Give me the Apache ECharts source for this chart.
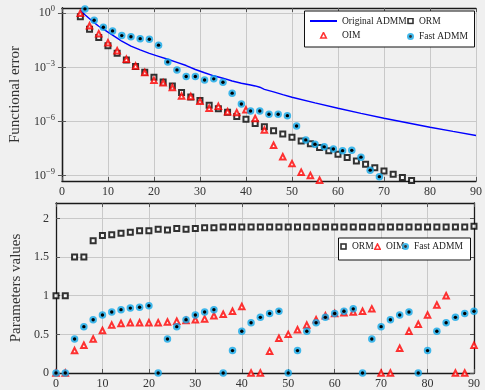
<!DOCTYPE html>
<html><head><meta charset="utf-8">
<script src="https://cdn.jsdelivr.net/npm/echarts@6/dist/echarts.min.js"></script>
<style>html,body{margin:0;padding:0;background:#f0f0f0}#c{width:485px;height:390px}</style>
</head><body><div id="c"></div>
<script>
// ---------- top chart: functional error (log scale) ----------
const admmX = [4,5,6,7,8,9,10,12,13,15,17,19,21,23,25,27,29,31,33,35,37,39,41,42,43,44,46,48,50,55,60,65,70,75,80,85,90];
const admmY = [1.48,0.83,0.50,0.30,0.19,0.132,0.089,0.042,0.028,0.015,9.3e-3,6.0e-3,4.1e-3,2.8e-3,1.9e-3,1.26e-3,7.6e-4,5.0e-4,3.4e-4,2.5e-4,1.74e-4,1.32e-4,1.05e-4,9.3e-5,7.9e-5,6.0e-5,4.4e-5,3.1e-5,2.2e-5,1.07e-5,5.4e-6,2.8e-6,1.5e-6,8.5e-7,4.8e-7,2.8e-7,1.66e-7];

const ormTopX = [4,6,8,10,12,14,16,18,20,22,24,26,28,30,32,34,36,38,40,42,44,46,48,50,52,54,56,58,60,62,64,66,68,70,72,74,76];
const ormTopY = [0.646,0.129,0.0447,0.0158,6.03e-3,2.57e-3,1.1e-3,5.37e-4,2.82e-4,1.55e-4,9.33e-5,3.98e-5,2.29e-5,1.45e-5,7.94e-6,5.13e-6,3.24e-6,1.91e-6,1.32e-6,7.59e-7,5.01e-7,3.09e-7,2.04e-7,1.35e-7,8.32e-8,5.75e-8,3.55e-8,2.34e-8,1.51e-8,1.0e-8,6.46e-9,4.27e-9,2.75e-9,1.82e-9,1.2e-9,7.76e-10,5.37e-10];

const oimTopX = [4,6,8,10,12,14,16,18,20,22,24,26,28,30,32,34,36,38,40,42,44,46,48,50,52,54,56];
const oimTopY = [1.0,0.20,0.074,0.023,8.3e-3,2.8e-3,1.2e-3,5.2e-4,1.9e-4,1.4e-4,7.6e-5,2.6e-5,2.4e-5,1.3e-5,5.4e-6,6.9e-6,3.5e-6,3.1e-6,4.4e-6,1.45e-6,3.4e-7,4.8e-8,1.1e-8,4.6e-9,1.55e-9,1.0e-9,5.5e-10];

const fastTopX = [5,7,9,11,13,15,17,19,21,23,25,27,29,31,33,35,37,39,41,43,45,47,49,51,53,55,57,59,61,63,65,67,69];
const fastTopY = [1.74,0.41,0.166,0.105,0.0575,0.050,0.039,0.036,0.017,2.0e-3,7.2e-4,3.1e-4,3.1e-4,2.0e-4,2.3e-4,1.5e-4,3.7e-5,9.3e-6,3.8e-6,3.8e-6,2.5e-6,2.5e-6,2.1e-6,5.6e-7,9.5e-8,5.5e-8,3.9e-8,3.0e-8,2.4e-8,2.5e-8,1.05e-8,2.0e-9,8.7e-10];

const topYTicks = [1e-9,1e-6,1e-3,1];

// ---------- bottom chart: parameter values ----------
const botX = [0,2,4,6,8,10,12,14,16,18,20,22,24,26,28,30,32,34,36,38,40,42,44,46,48,50,52,54,56,58,60,62,64,66,68,70,72,74,76,78,80,82,84,86,88,90];
const ormBot = [1.00,1.00,1.50,1.50,1.71,1.78,1.79,1.81,1.82,1.84,1.84,1.86,1.85,1.87,1.86,1.87,1.88,1.88,1.89,1.89,1.89,1.89,1.89,1.89,1.89,1.89,1.89,1.89,1.89,1.89,1.89,1.89,1.89,1.89,1.89,1.89,1.89,1.89,1.89,1.89,1.89,1.89,1.89,1.89,1.89,1.90];
const oimBot = [0,0,0.29,0.36,0.44,0.55,0.62,0.64,0.65,0.65,0.65,0.65,0.66,0.67,0.68,0.69,0.70,0.74,0.76,0.80,0.86,0,0,0.28,0.45,0.50,0.56,0.62,0.69,0.74,0.77,0.78,0.79,0.80,0.83,0,0,0.32,0.54,0.63,0.75,0.88,1.00,0,0,0.36];
const fastBot = [0,0,0.44,0.60,0.69,0.75,0.79,0.82,0.84,0.85,0.87,0,0.44,0.60,0.69,0.75,0.79,0.82,0,0.29,0.54,0.65,0.72,0.77,0.80,0,0.29,0.54,0.65,0.72,0.77,0.80,0.83,0,0.44,0.60,0.69,0.75,0.79,0,0.29,0.54,0.65,0.72,0.77,0.80];
const botYTicks = [0,0.5,1,1.5,2];

// ---------- styling ----------
const FF = '"Liberation Serif","DejaVu Serif",serif';
const CYAN = '#12a8e8';
const GRID = '#c9c9c9';
const TXT = '#333';
const svgIcon = s => 'image://data:image/svg+xml;charset=utf-8,' + encodeURIComponent(s);
const fastIcon = svgIcon("<svg xmlns='http://www.w3.org/2000/svg' width='14' height='14'><circle cx='7' cy='7' r='7' fill='" + CYAN + "'/><circle cx='7' cy='7' r='2.8' fill='#000'/></svg>");
const sqIcon = svgIcon("<svg xmlns='http://www.w3.org/2000/svg' width='14' height='14'><rect x='2' y='2' width='10' height='10' fill='#fff' stroke='#000' stroke-width='3.2'/></svg>");
const triIcon = svgIcon("<svg xmlns='http://www.w3.org/2000/svg' width='14' height='14'><polygon points='7,2 12.5,12.5 1.5,12.5' fill='#fff' stroke='#f00' stroke-width='3.2' stroke-linejoin='miter'/></svg>");
const triWideIcon = svgIcon("<svg xmlns='http://www.w3.org/2000/svg' width='54' height='16'><polygon points='27,2 32.5,13 21.5,13' fill='#fff' stroke='#f00' stroke-width='3.2'/></svg>");

const zip = (xs, ys) => xs.map((x, i) => [x, ys[i]]);

function xAx(grid, pos, withLabels) {
  return {
    type: 'value', gridIndex: grid, position: pos, min: 0, max: 90, interval: 10,
    axisLine: {show: true, onZero: false, lineStyle: {color: '#1a1a1a', width: 1.3}},
    axisTick: {show: true, inside: true, length: 4, lineStyle: {color: '#555'}},
    axisLabel: {show: withLabels, fontFamily: FF, fontSize: 12, color: TXT, margin: 5},
    splitLine: {show: withLabels, lineStyle: {color: GRID, width: 1}}
  };
}
function supFmt(v) {
  const e = Math.round(Math.log10(v));
  return '10{s|' + (e < 0 ? '\u2212' : '') + Math.abs(e) + '}';
}
function yLog(pos, withLabels) {
  return {
    type: 'log', logBase: 10, gridIndex: 0, position: pos, min: 5.0e-10, max: 1.95,
    name: withLabels ? 'Functional error' : '', nameLocation: 'middle', nameGap: 38,
    nameTextStyle: {fontFamily: FF, fontSize: 15, color: TXT},
    axisLine: {show: true, lineStyle: {color: '#1a1a1a', width: 1.3}},
    axisTick: {show: true, inside: true, length: 4, customValues: topYTicks, lineStyle: {color: '#555'}},
    axisLabel: {show: withLabels, customValues: topYTicks, formatter: supFmt, fontFamily: FF, fontSize: 12, color: TXT, margin: 7,
      rich: {s: {fontFamily: FF, fontSize: 8.5, color: TXT, padding: [0, 0, 8, 0]}}},
    splitLine: {show: withLabels, lineStyle: {color: GRID, width: 1}}
  };
}
function yLin(pos, withLabels) {
  return {
    type: 'value', gridIndex: 1, position: pos, min: 0, max: 2.2,
    name: withLabels ? 'Parameters values' : '', nameLocation: 'middle', nameGap: 28,
    nameTextStyle: {fontFamily: FF, fontSize: 15, color: TXT},
    axisLine: {show: true, onZero: false, lineStyle: {color: '#1a1a1a', width: 1.3}},
    axisTick: {show: true, inside: true, length: 4, customValues: botYTicks, lineStyle: {color: '#555'}},
    axisLabel: {show: withLabels, customValues: botYTicks, fontFamily: FF, fontSize: 12, color: TXT, margin: 7},
    splitLine: {show: withLabels, lineStyle: {color: GRID, width: 1}}
  };
}

function seriesFor(xi, yi, orm, oim, fast, line) {
  const s = [];
  if (line) s.push({name: 'Original ADMM', type: 'line', xAxisIndex: xi, yAxisIndex: yi, data: line,
    symbol: 'none', showSymbol: false, color: '#0000ff', lineStyle: {color: '#0000ff', width: 1.4}, z: 2});
  s.push({name: 'ORM', type: 'scatter', xAxisIndex: xi, yAxisIndex: yi, data: orm, clip: false,
    symbol: 'emptyRect', symbolSize: 5, itemStyle: {color: '#000', borderColor: '#000', borderWidth: 1.8}, z: 3});
  s.push({name: 'OIM', type: 'scatter', xAxisIndex: xi, yAxisIndex: yi, data: oim, clip: false,
    symbol: 'emptyTriangle', symbolSize: 5.5, itemStyle: {color: '#ff0000', borderColor: '#ff0000', borderWidth: 1.8}, z: 4});
  s.push({name: 'Fast ADMM', type: 'scatter', xAxisIndex: xi, yAxisIndex: yi, data: fast, clip: false,
    symbol: 'circle', symbolSize: 7.5, itemStyle: {color: CYAN}, z: 5});
  s.push({name: 'Fast ADMM centre', type: 'scatter', xAxisIndex: xi, yAxisIndex: yi, data: fast, clip: false,
    symbol: 'circle', symbolSize: 3.4, itemStyle: {color: '#000', opacity: 1}, z: 6, silent: true});
  return s;
}

const legText = {fontFamily: FF, fontSize: 9.5, color: '#222'};
const legBase = {padding: 0, textStyle: legText, z: 20, selectedMode: false, itemHeight: 7};

const chart = echarts.init(document.getElementById('c'), null, {renderer: 'canvas'});
chart.setOption({
  animation: false,
  backgroundColor: '#f0f0f0',
  grid: [
    {left: 61, right: 6, top: 8, height: 173},
    {left: 56, right: 11, top: 203, height: 174}
  ],
  xAxis: [xAx(0, 'bottom', true), xAx(0, 'top', false), xAx(1, 'bottom', true), xAx(1, 'top', false)],
  yAxis: [yLog('left', true), yLog('right', false), yLin('left', true), yLin('right', false)],
  graphic: [
    {type: 'rect', left: 304, top: 10.5, z: 15, shape: {width: 170, height: 36},
      style: {fill: '#fff', stroke: '#111', lineWidth: 1}},
    {type: 'rect', left: 338, top: 237.5, z: 15, shape: {width: 132, height: 22},
      style: {fill: '#fff', stroke: '#111', lineWidth: 1}}
  ],
  legend: [
    Object.assign({}, legBase, {orient: 'vertical', left: 309, top: 16, itemWidth: 27, itemHeight: 8, itemGap: 4.5,
      data: [{name: 'Original ADMM', itemStyle: {opacity: 0}}, {name: 'OIM', icon: triWideIcon}]}),
    Object.assign({}, legBase, {orient: 'vertical', left: 407, top: 16, itemWidth: 7, itemGap: 5.5,
      data: [{name: 'ORM', icon: sqIcon}, {name: 'Fast ADMM', icon: fastIcon}]}),
    Object.assign({}, legBase, {left: 340, top: 241.5, itemWidth: 7, data: [{name: 'ORM', icon: sqIcon}]}),
    Object.assign({}, legBase, {left: 374, top: 241.5, itemWidth: 7, data: [{name: 'OIM', icon: triIcon}]}),
    Object.assign({}, legBase, {left: 402, top: 241.5, itemWidth: 7, data: [{name: 'Fast ADMM', icon: fastIcon}]})
  ],
  series: [].concat(
    seriesFor(0, 0, zip(ormTopX, ormTopY), zip(oimTopX, oimTopY), zip(fastTopX, fastTopY), zip(admmX, admmY)),
    seriesFor(2, 2, zip(botX, ormBot), zip(botX, oimBot), zip(botX, fastBot), null)
  )
});
</script>
</body></html>
